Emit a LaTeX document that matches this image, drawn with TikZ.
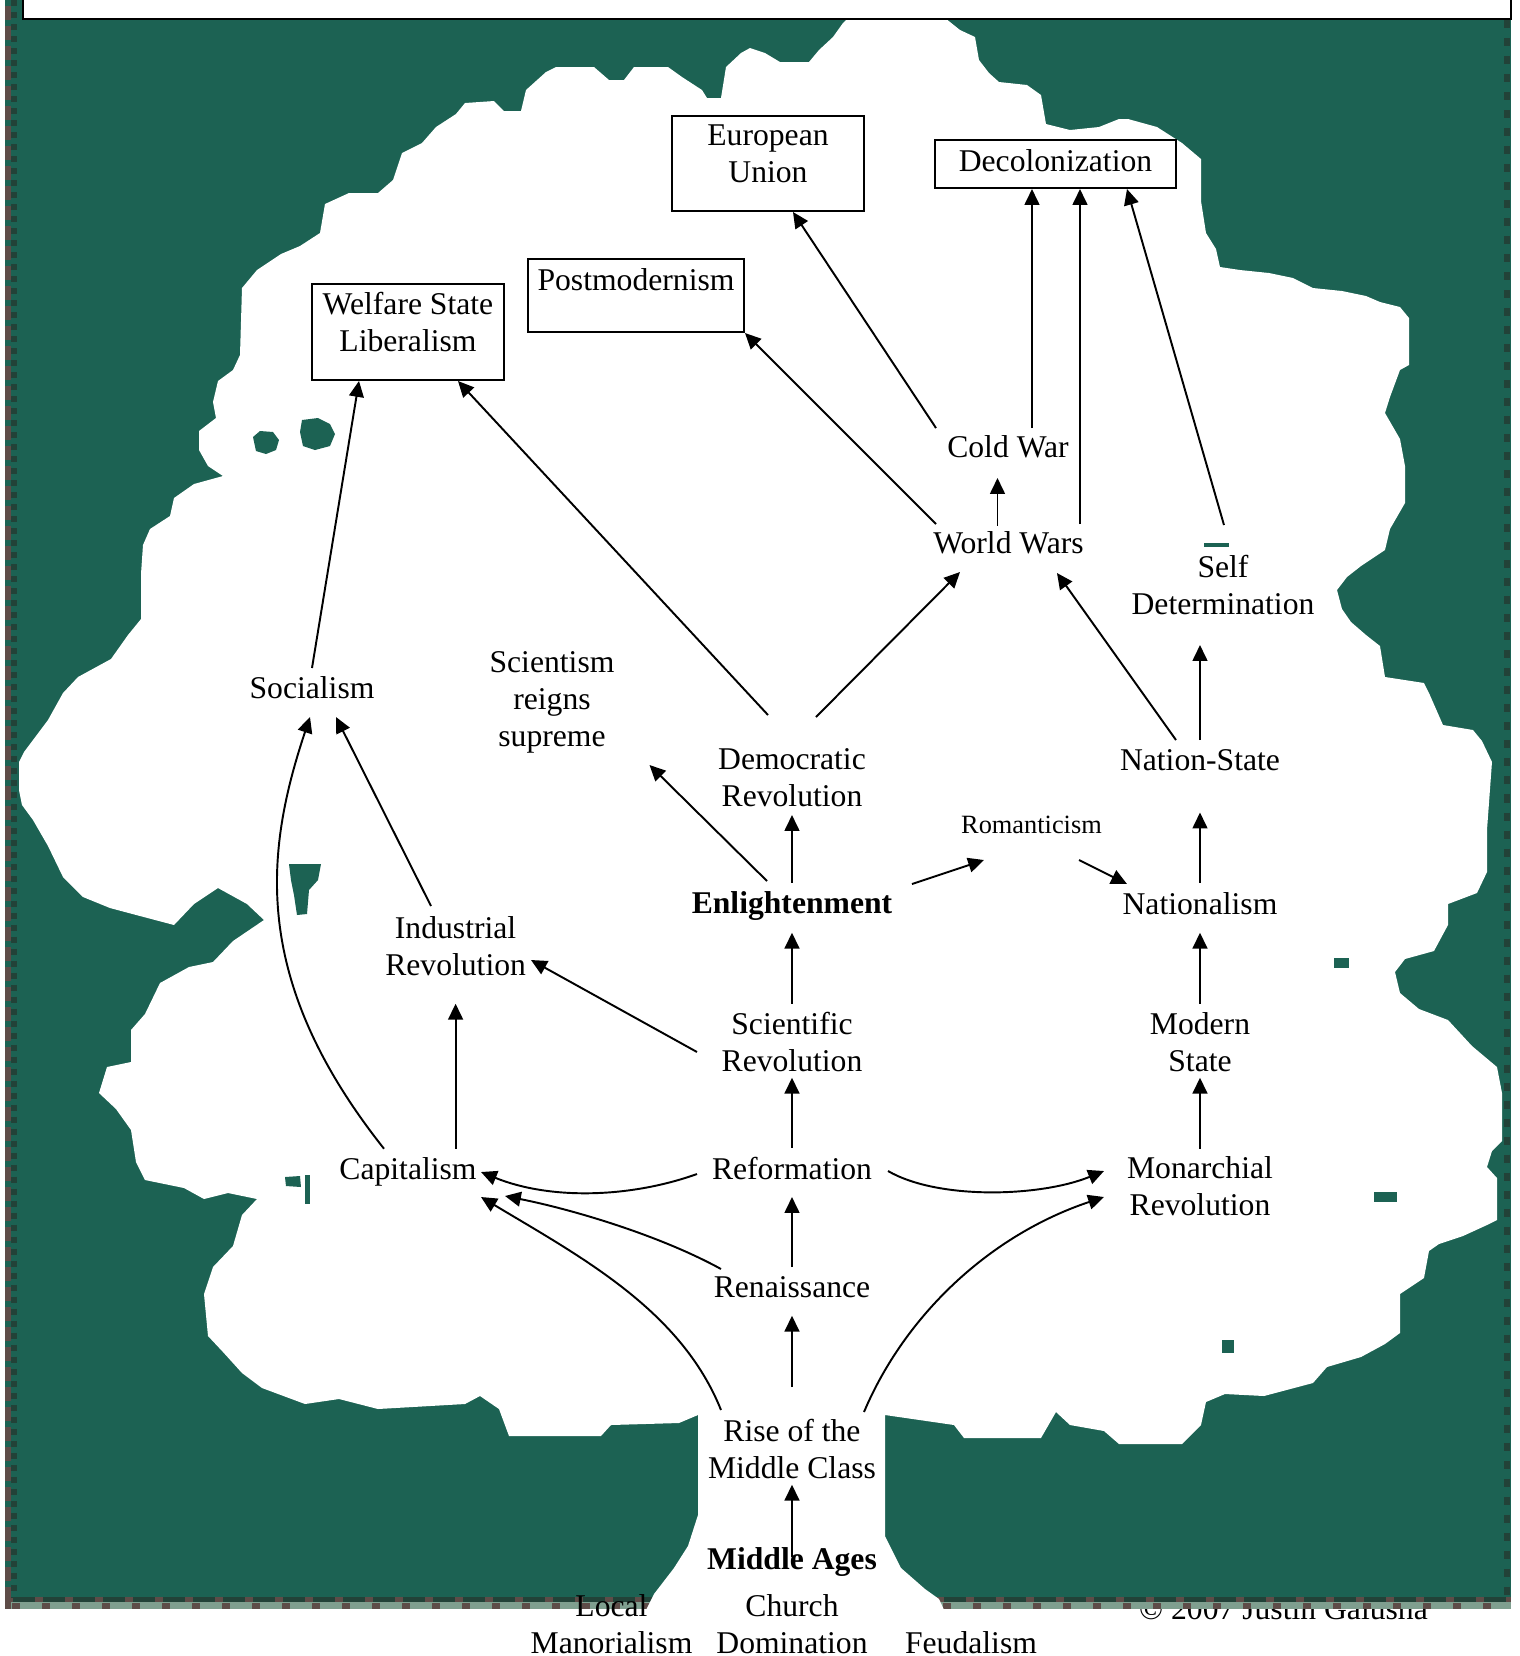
\documentclass[tikz,border=0pt]{standalone}
\usepackage{fontspec}
\setmainfont{Liberation Serif}
\usetikzlibrary{positioning,calc,arrows.meta}
\definecolor{treegreen}{RGB}{28,98,83}
\definecolor{bark}{RGB}{94,76,72}
\definecolor{palegreen}{RGB}{127,159,143}
\definecolor{darkleaf}{RGB}{34,66,56}
\begin{document}
\begin{tikzpicture}[x=0.01cm,y=-0.01cm,
  lbl/.style={align=center,inner sep=0pt,font=\fontsize{9}{10.5}\selectfont},
  lblsmall/.style={lbl,font=\fontsize{7.5}{9}\selectfont},
  lblbold/.style={lbl,font=\fontsize{9}{10.5}\selectfont\bfseries},
  box/.style={draw,line width=0.6pt,inner sep=0pt},
  arr/.style={line width=0.55pt,-{Triangle[length=4.5pt,width=4.2pt]}}]
\useasboundingbox (0,0) rectangle (1520,1656);
\fill[treegreen] (5,0) rectangle (1511,1597);
\node[lbl] (copy) at (1283.5,1609) {\textcopyright{} 2007 Justin Galusha};
\fill[darkleaf] (5,1597) rectangle (1511,1602);
\fill[palegreen] (5,1602) rectangle (1511,1609);
\draw[bark,line width=0.05cm,dash pattern=on 0.08cm off 0.22cm] (5,1599.5) -- (1511,1599.5);
\draw[bark,line width=0.06cm,dash pattern=on 0.08cm off 0.22cm] (12,1605.5) -- (1511,1605.5);
\fill[bark] (5,0) rectangle (11,1609);
\draw[treegreen,line width=0.06cm,dash pattern=on 0.06cm off 0.14cm] (8,0) -- (8,1597);
\draw[darkleaf,line width=0.06cm,dash pattern=on 0.06cm off 0.06cm] (14,0) -- (14,1597);
\draw[darkleaf,line width=0.06cm,dash pattern=on 0.08cm off 0.1cm] (1507,20) -- (1507,1597);
\fill[white] (645,1612) -- (654,1594) -- (674,1568) -- (688,1546) -- (698,1515) -- (698,1415)
  -- (679,1423) -- (611,1425) -- (601,1436) -- (509,1436) -- (499,1409) -- (480,1396)
  -- (465,1404) -- (378,1409) -- (339,1399) -- (305,1404) -- (262,1388) -- (242,1373)
  -- (223,1352) -- (208,1336) -- (204,1294) -- (213,1267) -- (233,1246) -- (242,1215)
  -- (257,1199) -- (228,1193) -- (204,1199) -- (184,1188) -- (145,1180) -- (136,1162)
  -- (131,1130) -- (116,1109) -- (99,1093) -- (107,1067) -- (131,1062) -- (131,1030)
  -- (145,1014) -- (160,983) -- (189,967) -- (213,962) -- (233,941) -- (264,920)
  -- (247,904) -- (218,888) -- (194,904) -- (174,925) -- (140,916) -- (110,908)
  -- (83,897) -- (63,877) -- (48,846) -- (33,820) -- (22,805) -- (19,790) -- (19,762)
  -- (24,752) -- (48,720) -- (63,693) -- (78,677) -- (111,659) -- (128,635) -- (141,619)
  -- (141,574) -- (143,545) -- (150,529) -- (170,516) -- (174,498) -- (194,484)
  -- (223,476) -- (208,466) -- (199,450) -- (199,431) -- (216,418) -- (213,402)
  -- (218,381) -- (233,370) -- (240,355) -- (242,288) -- (257,270) -- (281,254)
  -- (300,246) -- (320,233) -- (325,204) -- (349,193) -- (378,193) -- (393,180)
  -- (402,153) -- (422,143) -- (436,127) -- (456,114) -- (465,103) -- (494,101)
  -- (504,111) -- (521,111) -- (526,90) -- (546,72) -- (556,67) -- (594,67) -- (609,80)
  -- (624,80) -- (634,67) -- (668,67) -- (682,77) -- (702,90) -- (707,98) -- (721,98)
  -- (726,67) -- (741,53) -- (750,48) -- (765,53) -- (780,62) -- (809,62) -- (819,50)
  -- (833,37) -- (843,23) -- (848,18) -- (945,18) -- (960,30) -- (975,37) -- (979,60)
  -- (989,73) -- (999,82) -- (1027,85) -- (1041,95) -- (1046,124) -- (1070,130)
  -- (1099,127) -- (1119,119) -- (1128,119) -- (1157,127) -- (1182,143) -- (1201,159)
  -- (1201,201) -- (1206,233) -- (1216,249) -- (1220,267) -- (1240,270) -- (1269,273)
  -- (1293,278) -- (1313,288) -- (1342,291) -- (1366,296) -- (1380,302) -- (1400,307)
  -- (1409,318) -- (1409,365) -- (1400,370) -- (1390,397) -- (1385,413) -- (1400,439)
  -- (1405,466) -- (1405,503) -- (1390,529) -- (1385,550) -- (1361,566) -- (1347,577)
  -- (1337,590) -- (1342,609) -- (1351,622) -- (1366,635) -- (1380,646) -- (1385,677)
  -- (1424,683) -- (1429,693) -- (1443,725) -- (1473,730) -- (1482,741) -- (1492,762)
  -- (1487,830) -- (1487,872) -- (1477,893) -- (1448,904) -- (1448,925) -- (1434,951)
  -- (1405,959) -- (1395,972) -- (1400,993) -- (1419,1009) -- (1448,1020) -- (1472,1046)
  -- (1497,1067) -- (1502,1093) -- (1502,1141) -- (1492,1151) -- (1487,1167)
  -- (1497,1178) -- (1497,1220) -- (1487,1225) -- (1463,1236) -- (1439,1244)
  -- (1429,1251) -- (1424,1278) -- (1400,1294) -- (1400,1333) -- (1385,1344)
  -- (1361,1357) -- (1327,1367) -- (1313,1383) -- (1264,1396) -- (1225,1394)
  -- (1206,1402) -- (1201,1425) -- (1182,1444) -- (1119,1444) -- (1104,1431)
  -- (1070,1425) -- (1056,1412) -- (1041,1438) -- (964,1438) -- (954,1425) -- (885,1415)
  -- (885,1536) -- (901,1568) -- (925,1589) -- (939,1599) -- (945,1612) -- cycle;
\fill[treegreen] (253,437) -- (260,431) -- (273,432) -- (279,440) -- (276,450) -- (266,454) -- (256,451) -- cycle;
\fill[treegreen] (302,420) -- (318,418) -- (330,424) -- (335,434) -- (330,446) -- (315,450) -- (303,446) -- (300,432) -- cycle;
\fill[treegreen] (289,864) -- (321,864) -- (318,880) -- (309,890) -- (307,914) -- (297,915) -- (294,895) -- (291,880) -- cycle;
\fill[treegreen] (285,1177) -- (300,1176) -- (301,1187) -- (286,1186) -- cycle;
\fill[treegreen] (305,1175) rectangle (310,1204);
\fill[treegreen] (1334,958) rectangle (1349,968);
\fill[treegreen] (1374,1192) rectangle (1397,1202);
\fill[treegreen] (1222,1340) rectangle (1234,1353);
\fill[treegreen] (1204,543) rectangle (1229,547);
\draw[fill=white,line width=0.6pt] (23,-5) rectangle (1511,19);

\node[box,minimum width=1.92cm,minimum height=0.95cm] (eu) at (768,163.5) {};
\node[lbl,below=0.09cm of eu.north] (eutext) {European\\Union};
\node[box,minimum width=2.41cm,minimum height=0.48cm] (dc) at (1055.5,164) {};
\node[lbl,below=0.1cm of dc.north] (dctext) {Decolonization};
\node[box,minimum width=2.16cm,minimum height=0.73cm] (pm) at (636,295.5) {};
\node[lbl,below=0.1cm of pm.north] (pmtext) {Postmodernism};
\node[box,minimum width=1.92cm,minimum height=0.96cm] (wel) at (408,332) {};
\node[lbl,below=0.09cm of wel.north] (weltext) {Welfare State\\Liberalism};

\node[lbl] (cold) at (1008,447) {Cold War};
\node[lbl] (ww) at (1008.5,543) {World Wars};
\node[lbl] (self) at (1223,585) {Self\\Determination};
\node[lbl] (soc) at (312,688) {Socialism};
\node[lbl] (sci) at (552,702.7) {Scientism\\reigns\\supreme};
\node[lbl] (dem) at (792,777.7) {Democratic\\Revolution};
\node[lbl] (ns) at (1200,760) {Nation-State};
\node[lblsmall] (rom) at (1031.5,824.5) {Romanticism};
\node[lblbold] (enl) at (792,906.3) {Enlightenment};
\node[lbl] (nat) at (1200,903.3) {Nationalism};
\node[lbl] (ind) at (455.6,945.7) {Industrial\\Revolution};
\node[lbl] (scirev) at (792,1041.7) {Scientific\\Revolution};
\node[lbl] (mod) at (1200,1041.7) {Modern\\State};
\node[lbl] (cap) at (408,1171.4) {Capitalism};
\node[lbl] (ref) at (792,1168.2) {Reformation};
\node[lbl] (mon) at (1200,1186) {Monarchial\\Revolution};
\node[lbl] (ren) at (792,1287) {Renaissance};
\node[lbl] (rmc) at (792,1448.7) {Rise of the\\Middle Class};
\node[lblbold] (ma) at (792,1562.3) {Middle Ages};
\node[lbl] (loc) at (611.5,1623.7) {Local\\Manorialism};
\node[lbl] (church) at (792,1623.7) {Church\\Domination};
\node[lbl] (feud) at (971,1642.3) {Feudalism};

\draw[arr] ($(soc)+(0,-20)$) -- ($(wel)+(-49,49)$);
\draw[arr] ($(dem)+(-24,-62.7)$) -- ($(wel)+(50,49)$);
\draw[arr] ($(ww)+(-72.5,-19)$) -- ($(pm)+(109,37.5)$);
\draw[arr] ($(cold)+(-72,-19)$) -- ($(eu)+(25,48.5)$);
\draw[arr] ($(cold)+(24,-19)$) -- ($(dc)+(-23.5,25)$);
\draw[arr] ($(ww)+(71.5,-19)$) -- ($(dc)+(24.5,25)$);
\draw[arr] ($(self)+(1,-60)$) -- ($(dc)+(71.5,25)$);
\draw[arr] ($(ww)+(-11,-17.4)$) -- ($(cold)+(-10.5,31)$);
\draw[arr] ($(dem)+(24,-60.7)$) -- ($(ww)+(-48.5,29)$);
\draw[arr] ($(ns)+(-24,-20)$) -- ($(ww)+(48.5,30)$);
\draw[arr] ($(ns)+(0,-20)$) -- ($(self)+(-23,60)$);
\draw[arr] ($(nat)+(0,-20.6)$) -- ($(ns)+(0,52.5)$);
\draw[arr] ($(enl)+(120,-22.3)$) -- ($(rom)+(-47.5,35.5)$);
\draw[arr] ($(rom)+(47.5,35.5)$) -- ($(nat)+(-73,-19.3)$);
\draw[arr] ($(enl)+(0,-23.6)$) -- ($(dem)+(0,37.3)$);
\draw[arr] ($(enl)+(-25,-25.3)$) -- ($(sci)+(97.5,62.3)$);
\draw[arr] ($(scirev)+(0,-38)$) -- ($(enl)+(0,26.4)$);
\draw[arr] ($(scirev)+(-95,10.3)$) -- ($(ind)+(75.4,14.3)$);
\draw[arr] ($(ind)+(-24.6,-39.7)$) -- ($(soc)+(24,29)$);
\draw[arr] ($(cap)+(-24,-22.7)$) .. controls +(-134,-169) and +(-45,135) .. ($(soc)+(-2,29)$);
\draw[arr] ($(cap)+(47.6,-22.7)$) -- ($(ind)+(0,58)$);
\draw[arr] ($(ref)+(-95,5.8)$) .. controls +(-67,24) and +(69,28) .. ($(cap)+(73,0.6)$);
\draw[arr] ($(ren)+(-71,-18)$) .. controls +(-60,-33) and +(70,14) .. ($(cap)+(97,24.6)$);
\draw[arr] ($(rmc)+(-71,-38.7)$) .. controls +(-40,-100) and +(100,60) .. ($(cap)+(73,25.6)$);
\draw[arr] ($(ref)+(96,2.8)$) .. controls +(50,29) and +(-64,26) .. ($(mon)+(-96,-15)$);
\draw[arr] ($(rmc)+(72,-36.7)$) .. controls +(41,-97) and +(-114,38) .. ($(mon)+(-96,11)$);
\draw[arr] ($(ref)+(0,-20.5)$) -- ($(scirev)+(0,36)$);
\draw[arr] ($(ren)+(0,-20)$) -- ($(ref)+(0,28.8)$);
\draw[arr] ($(rmc)+(0,-61.7)$) -- ($(ren)+(0,28.7)$);
\draw[arr] ($(ma)+(0,-5)$) -- ($(rmc)+(0,36)$);
\draw[arr] ($(mod)+(0,-38)$) -- ($(nat)+(0,29.4)$);
\draw[arr] ($(mon)+(0,-37.3)$) -- ($(mod)+(0,36)$);
\end{tikzpicture}
\end{document}
